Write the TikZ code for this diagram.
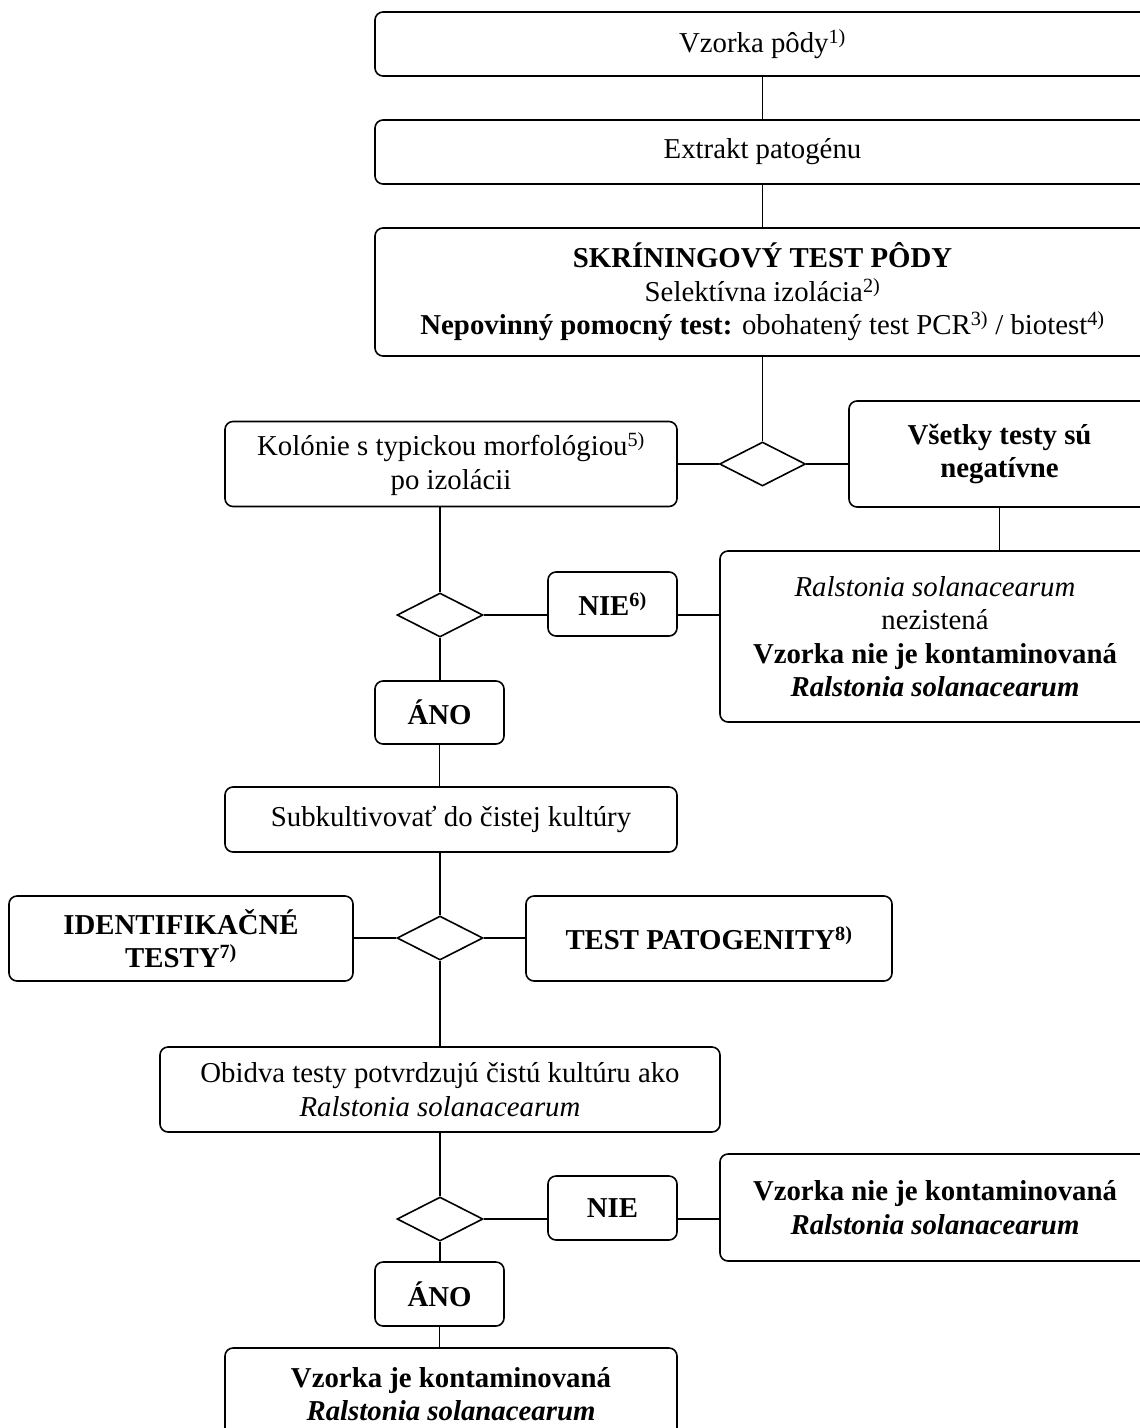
\documentclass[tikz,border=0pt]{standalone}
\usepackage{fontspec}
\setmainfont{Liberation Serif}
\usetikzlibrary{shapes.geometric}
\begin{document}
\begin{tikzpicture}[x=1pt,y=-1pt,
  box/.style={draw, rounded corners=8pt, line width=1.6pt, inner sep=0pt, align=center,
    font=\fontsize{28.8}{33.5}\selectfont},
  dia/.style={draw, diamond, line width=1.6pt, inner sep=0pt, minimum width=86pt, minimum height=44pt},
  con/.style={line width=1.6pt}]
\useasboundingbox (0,0) rectangle (1140,1428);
\fill[white] (0,0) rectangle (1140,1428);

\node[box, minimum width=775pt, minimum height=64pt] (b1) at (762.5,44) {Vzorka pôdy\textsuperscript{1)}};
\node[box, minimum width=775pt, minimum height=64pt] (b2) at (762.5,152) {Extrakt patogénu};
\node[box, minimum width=775pt, minimum height=128pt] (b3) at (762.5,292)
  {\textbf{SKRÍNINGOVÝ TEST PÔDY}\\Selektívna izolácia\textsuperscript{2)}\\\textbf{Nepovinný pomocný test:} obohatený test PCR\textsuperscript{3)} / biotest\textsuperscript{4)}};
\node[dia] (d1) at (762.5,464) {};
\node[box, minimum width=452pt, minimum height=85pt] (kol) at (451,464)
  {Kolónie s typickou morfológiou\textsuperscript{5)}\\po izolácii};
\node[box, minimum width=301pt, minimum height=106pt] (vset) at (999.5,454)
  {\textbf{Všetky testy sú}\\\textbf{negatívne}};
\node[box, minimum width=430pt, minimum height=171pt] (ral) at (935,636.5)
  {\textit{Ralstonia solanacearum}\\nezistená\\\textbf{Vzorka nie je kontaminovaná}\\\textbf{\textit{Ralstonia solanacearum}}};
\node[dia] (d2) at (440,615) {};
\node[box, minimum width=129pt, minimum height=64pt] (nie1) at (612.5,604) {\textbf{NIE\textsuperscript{6)}}};
\node[box, minimum width=129pt, minimum height=63pt] (ano1) at (439.5,712.5) {\textbf{ÁNO}};
\node[box, minimum width=452pt, minimum height=65pt] (sub) at (451,819.5) {Subkultivovať do čistej kultúry};
\node[dia] (d3) at (440,938) {};
\node[box, minimum width=344pt, minimum height=85pt] (ident) at (181,938.5)
  {\textbf{IDENTIFIKAČNÉ}\\\textbf{TESTY\textsuperscript{7)}}};
\node[box, minimum width=366pt, minimum height=85pt] (pat) at (709,938.5)
  {\textbf{TEST PATOGENITY\textsuperscript{8)}}};
\node[box, minimum width=560pt, minimum height=85pt] (obid) at (440,1089.5)
  {Obidva testy potvrdzujú čistú kultúru ako\\\textit{Ralstonia solanacearum}};
\node[dia] (d4) at (440,1219) {};
\node[box, minimum width=129pt, minimum height=64pt] (nie2) at (612.5,1208) {\textbf{NIE}};
\node[box, minimum width=430pt, minimum height=107pt] (vn) at (935,1207.5)
  {\textbf{Vzorka nie je kontaminovaná}\\\textbf{\textit{Ralstonia solanacearum}}};
\node[box, minimum width=129pt, minimum height=64pt] (ano2) at (439.5,1294) {\textbf{ÁNO}};
\node[box, minimum width=452pt, minimum height=92pt] (fin) at (451,1394)
  {\textbf{Vzorka je kontaminovaná}\\\textbf{\textit{Ralstonia solanacearum}}};

\draw[con] (b1) -- (b2);
\draw[con] (b2) -- (b3);
\draw[con] (b3) -- (d1);
\draw[con] (d1.west) -- (kol.east);
\draw[con] (d1.east) -- (d1.east -| vset.west);
\draw[con] (vset.south) -- (vset.south |- ral.north);
\draw[con] (d2.north |- kol.south) -- (d2.north);
\draw[con] (d2.east) -- (d2.east -| nie1.west);
\draw[con] (d2.east -| nie1.east) -- (d2.east -| ral.west);
\draw[con] (d2.south) -- (d2.south |- ano1.north);
\draw[con] (ano1.south) -- (ano1.south |- sub.north);
\draw[con] (d3.north |- sub.south) -- (d3.north);
\draw[con] (d3.west) -- (d3.west -| ident.east);
\draw[con] (d3.east) -- (d3.east -| pat.west);
\draw[con] (d3.south) -- (d3.south |- obid.north);
\draw[con] (obid.south) -- (d4.north);
\draw[con] (d4.east) -- (d4.east -| nie2.west);
\draw[con] (d4.east -| nie2.east) -- (d4.east -| vn.west);
\draw[con] (d4.south) -- (d4.south |- ano2.north);
\draw[con] (ano2.south) -- (ano2.south |- fin.north);
\end{tikzpicture}
\end{document}
